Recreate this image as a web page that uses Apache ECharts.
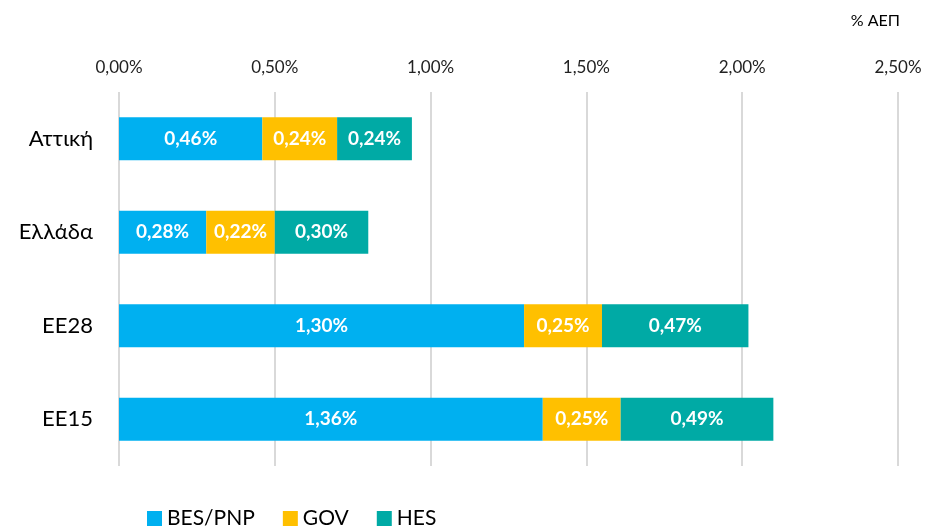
<!DOCTYPE html>
<html>
<head>
<meta charset="utf-8">
<script src="https://cdn.jsdelivr.net/npm/echarts@6/dist/echarts.min.js"></script>
<style>
  html, body { margin: 0; padding: 0; background: #fff; }
  #chart { width: 926px; height: 530px; }
</style>
</head>
<body>
<div id="chart"></div>
<script>
  // regions, top to bottom
  var regions = ['Αττική', 'Ελλάδα', 'ΕΕ28', 'ΕΕ15'];
  var besPnp = [0.46, 0.28, 1.30, 1.36];
  var gov = [0.24, 0.22, 0.25, 0.25];
  var hes = [0.24, 0.30, 0.47, 0.49];
  var seriesNames = ['BES/PNP', 'GOV', 'HES'];
  var colors = ['#00B0F0', '#FFC000', '#00AAA5'];

  function pct(v) {
    return v.toFixed(2).replace('.', ',') + '%';
  }

  function makeSeries(name, data, color) {
    return {
      name: name,
      type: 'bar',
      stack: 'total',
      barWidth: 43,
      data: data,
      itemStyle: { color: color },
      label: {
        show: true,
        position: 'inside',
        color: '#fff',
        fontWeight: 'bold',
        fontSize: 19,
        fontFamily: 'Lato',
        formatter: function (p) { return pct(p.value); }
      }
    };
  }

  var chart = echarts.init(document.getElementById('chart'));
  chart.setOption({
    animation: false,
    textStyle: { fontFamily: 'Lato' },
    graphic: [{
      type: 'text',
      right: 26,
      top: 13,
      style: { text: '% ΑΕΠ', fontSize: 16, fill: '#000', fontFamily: 'Lato' }
    }],
    legend: {
      bottom: -4,
      left: 142,
      icon: 'rect',
      itemWidth: 15,
      itemHeight: 15,
      itemGap: 28,
      textStyle: { fontSize: 21, color: '#000' },
      data: seriesNames
    },
    grid: { left: 119, right: 28, top: 92, bottom: 64 },
    xAxis: {
      type: 'value',
      position: 'top',
      min: 0,
      max: 2.5,
      interval: 0.5,
      axisLine: { show: false },
      axisTick: { show: false },
      axisLabel: {
        fontSize: 17,
        color: '#222',
        margin: 16,
        formatter: function (v) { return pct(v); }
      },
      splitLine: { lineStyle: { color: '#D9D9D9', width: 2 } }
    },
    yAxis: {
      type: 'category',
      inverse: true,
      data: regions,
      axisLine: { show: false },
      axisTick: { show: false },
      axisLabel: { fontSize: 22, color: '#000', margin: 26 }
    },
    series: [
      makeSeries(seriesNames[0], besPnp, colors[0]),
      makeSeries(seriesNames[1], gov, colors[1]),
      makeSeries(seriesNames[2], hes, colors[2])
    ]
  });
</script>
</body>
</html>
